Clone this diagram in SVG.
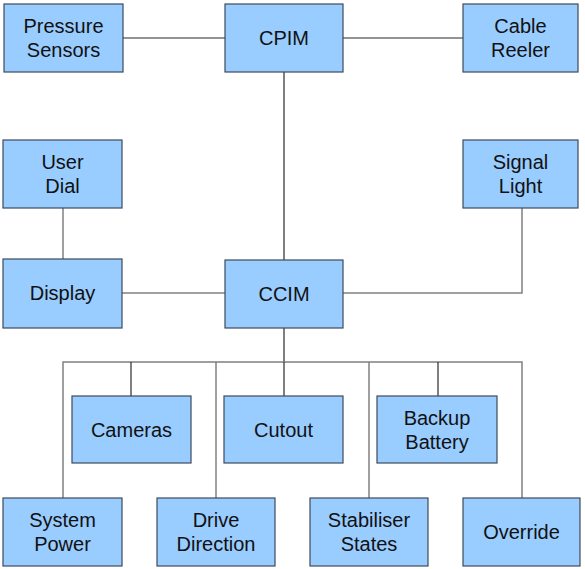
<svg xmlns="http://www.w3.org/2000/svg" width="585" height="569" viewBox="0 0 585 569">
<style>
.box{fill:#99ccff;stroke:#3d4b5c;stroke-width:1.2}
.t{font-family:"Liberation Sans",Arial,sans-serif;font-size:20px;fill:#111;text-anchor:middle}
.d{fill:none;stroke:#2a2a2a;stroke-width:1.2}
.g{fill:none;stroke:#808080;stroke-width:1.5}
</style>
<rect width="585" height="569" fill="#ffffff"/>
<g id="connectors">
<line class="d" x1="123" y1="38" x2="225" y2="38"/>
<line class="d" x1="343" y1="38" x2="463" y2="38"/>
<line class="d" x1="284" y1="72" x2="284" y2="260"/>
<line class="g" x1="63" y1="208" x2="63" y2="259"/>
<line class="g" x1="122" y1="293" x2="225" y2="293"/>
<polyline class="g" points="343,293 522,293 522,208"/>
<line class="d" x1="284" y1="328" x2="284" y2="362"/>
<polyline class="g" points="63,498 63,362 522,362 522,498"/>
<line class="d" x1="131" y1="362" x2="131" y2="396"/>
<line class="g" x1="216" y1="362" x2="216" y2="498"/>
<line class="d" x1="284" y1="362" x2="284" y2="396"/>
<line class="g" x1="369" y1="362" x2="369" y2="498"/>
<line class="d" x1="438" y1="362" x2="438" y2="396"/>
</g>
<g id="pressure-sensors"><rect class="box" x="4" y="4" width="119" height="68"/><text class="t" x="63.5" y="33">Pressure</text><text class="t" x="63.5" y="57">Sensors</text></g>
<g id="cpim"><rect class="box" x="225" y="4" width="118" height="68"/><text class="t" x="284" y="45">CPIM</text></g>
<g id="cable-reeler"><rect class="box" x="463" y="4" width="115" height="68"/><text class="t" x="520.5" y="33">Cable</text><text class="t" x="520.5" y="57">Reeler</text></g>
<g id="user-dial"><rect class="box" x="3" y="140" width="119" height="68"/><text class="t" x="62.5" y="169">User</text><text class="t" x="62.5" y="193">Dial</text></g>
<g id="signal-light"><rect class="box" x="463" y="140" width="115" height="68"/><text class="t" x="520.5" y="169">Signal</text><text class="t" x="520.5" y="193">Light</text></g>
<g id="display"><rect class="box" x="3" y="259" width="119" height="69"/><text class="t" x="62.5" y="300">Display</text></g>
<g id="ccim"><rect class="box" x="225" y="260" width="118" height="68"/><text class="t" x="284" y="301">CCIM</text></g>
<g id="cameras"><rect class="box" x="72" y="396" width="119" height="67"/><text class="t" x="131.5" y="437">Cameras</text></g>
<g id="cutout"><rect class="box" x="224" y="396" width="119" height="67"/><text class="t" x="283.5" y="437">Cutout</text></g>
<g id="backup-battery"><rect class="box" x="377" y="396" width="120" height="67"/><text class="t" x="437" y="425">Backup</text><text class="t" x="437" y="449">Battery</text></g>
<g id="system-power"><rect class="box" x="3" y="498" width="119" height="68"/><text class="t" x="62.5" y="527">System</text><text class="t" x="62.5" y="551">Power</text></g>
<g id="drive-direction"><rect class="box" x="157" y="498" width="118" height="68"/><text class="t" x="216" y="527">Drive</text><text class="t" x="216" y="551">Direction</text></g>
<g id="stabiliser-states"><rect class="box" x="310" y="498" width="118" height="68"/><text class="t" x="369" y="527">Stabiliser</text><text class="t" x="369" y="551">States</text></g>
<g id="override"><rect class="box" x="463" y="498" width="117" height="68"/><text class="t" x="521.5" y="539">Override</text></g>
</svg>
